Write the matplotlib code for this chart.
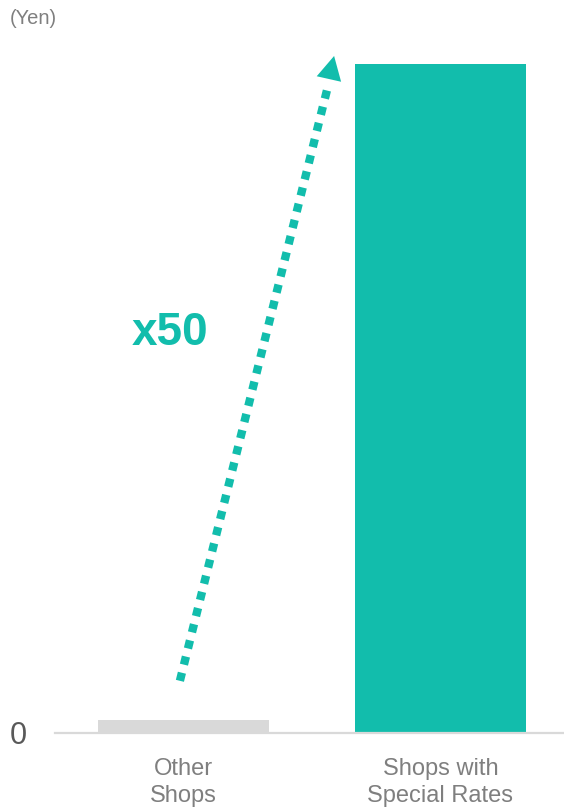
import matplotlib
matplotlib.use("Agg")
import matplotlib.pyplot as plt

# Data
categories = ["Other\nShops", "Shops with\nSpecial Rates"]
values = [1, 50]
bar_colors = ["#D9D9D9", "#12BDAC"]
ratio_label = "x50"
unit_label = "(Yen)"

TEAL = "#12BDAC"
GRAY_TEXT = "#7F7F7F"

plt.rcParams["font.family"] = ["Liberation Sans", "DejaVu Sans"]

W, H, DPI = 564, 807, 100
fig = plt.figure(figsize=(W / DPI, H / DPI), dpi=DPI)

# axes placed in pixel terms: baseline at y=733 px, left edge at x=55 px
base_px, top_px = 733, 40
left_px = 55
ax = fig.add_axes([left_px / W, (H - base_px) / H, (W - left_px) / W, (base_px - top_px) / H])

px_per_unit_x = 257.0
x0_px = 183.5
ax.set_xlim(-(x0_px - left_px) / px_per_unit_x, 1 + (W - x0_px - px_per_unit_x) / px_per_unit_x)
bar_top_px = 64
ax.set_ylim(0, values[1] * (base_px - top_px) / (base_px - bar_top_px))

xs = list(range(len(categories)))
ax.bar(xs, values, width=0.665, color=bar_colors, zorder=2)

for s in ["top", "right", "left"]:
    ax.spines[s].set_visible(False)
ax.spines["bottom"].set_color("#D9D9D9")
ax.spines["bottom"].set_linewidth(1.6)
ax.set_yticks([0])
ax.set_yticklabels(["0"], fontsize=22, color="#595959")
ax.tick_params(axis="y", length=0, pad=20)
ax.set_xticks(xs)
ax.set_xticklabels(categories, fontsize=17, color=GRAY_TEXT, linespacing=1.32)
ax.tick_params(axis="x", length=0, pad=18)

# dotted growth arrow from the small bar up to the tall bar
start = (-0.014, 3.9)
line_end = (0.559, 48.1)
head_base = (0.563, 48.8)
tip = (0.586, 50.6)
ax.plot([start[0], line_end[0]], [start[1], line_end[1]], color=TEAL, lw=6.0,
        linestyle=(0, (1, 1.0)), solid_capstyle="butt", dash_capstyle="butt", zorder=3)
ax.annotate("", xy=tip, xytext=(head_base[0] - 0.004, head_base[1] - 0.5),
            arrowprops=dict(arrowstyle="-|>,head_length=0.85,head_width=0.45",
                            color=TEAL, lw=0, shrinkA=0, shrinkB=0, mutation_scale=20),
            zorder=4, annotation_clip=False)

ax.text(-0.052, (base_px - 333) / (base_px - bar_top_px) * values[1], ratio_label,
        fontsize=33, fontweight="bold", color=TEAL, ha="center", va="center")

fig.text(10 / W, 1 - 18 / H, unit_label, fontsize=14.5, color=GRAY_TEXT, ha="left", va="center")

fig.savefig("out.png", dpi=DPI)
